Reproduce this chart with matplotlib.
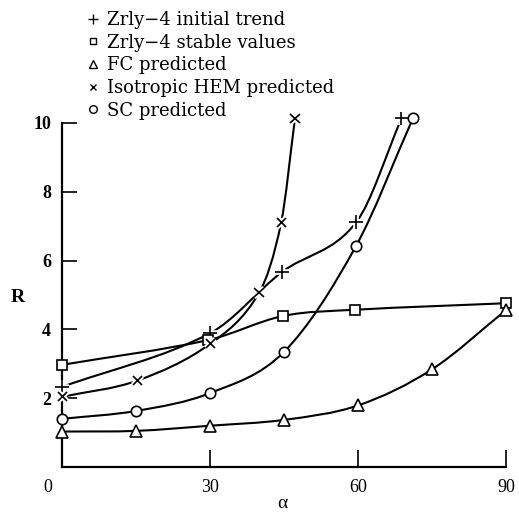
import numpy as np
import matplotlib
matplotlib.use("Agg")
import matplotlib.pyplot as plt
from matplotlib.path import Path
from matplotlib.patches import PathPatch
from matplotlib.lines import Line2D
import matplotlib.patheffects as pe

# ---- data ----
labels = ["Zrly\u22124 initial trend", "Zrly\u22124 stable values", "FC predicted",
          "Isotropic HEM predicted", "SC predicted"]

plus_a = [0, 30, 44.5, 59.6, 68.8]
plus_r = [2.33, 3.89, 5.66, 7.11, 10.13]

sq_a = [0, 29.6, 44.8, 59.4, 90]
sq_r = [2.97, 3.69, 4.39, 4.57, 4.76]

tri_a = [0, 15, 30, 45, 60, 75, 90]
tri_r = [1.03, 1.05, 1.20, 1.37, 1.79, 2.84, 4.56]

x_a = [0, 15.2, 30, 39.9, 44.4, 47.2]
x_r = [2.04, 2.51, 3.58, 5.06, 7.11, 10.13]

circ_a = [0, 15, 30, 45, 59.6, 71.1]
circ_r = [1.40, 1.63, 2.15, 3.35, 6.43, 10.13]

xticks = [30, 60, 90]
yticks = [2, 4, 6, 8, 10]

plt.rcParams['font.family'] = ['Liberation Serif', 'DejaVu Serif']

fig = plt.figure(figsize=(5.19, 5.12), dpi=100)
ax = fig.add_axes([0.120, 0.0879, 0.855, 0.672])
ax.set_xlim(0, 90)
ax.set_ylim(0, 10)


def smooth_path(xs, ys):
    xs = np.asarray(xs, float)
    ys = np.asarray(ys, float)
    n = len(xs)
    m = np.zeros(n)
    for i in range(n):
        if i == 0:
            m[i] = (ys[1] - ys[0]) / (xs[1] - xs[0])
        elif i == n - 1:
            m[i] = (ys[-1] - ys[-2]) / (xs[-1] - xs[-2])
        else:
            m[i] = (ys[i + 1] - ys[i - 1]) / (xs[i + 1] - xs[i - 1])
    verts = [(xs[0], ys[0])]
    codes = [Path.MOVETO]
    for i in range(n - 1):
        dx = xs[i + 1] - xs[i]
        verts += [(xs[i] + dx / 3, ys[i] + m[i] * dx / 3),
                  (xs[i + 1] - dx / 3, ys[i + 1] - m[i + 1] * dx / 3),
                  (xs[i + 1], ys[i + 1])]
        codes += [Path.CURVE4] * 3
    return Path(verts, codes)


series = [
    (plus_a, plus_r, '+', 10, 'black'),
    (sq_a, sq_r, 's', 6.5, 'white'),
    (tri_a, tri_r, '^', 8, 'white'),
    (x_a, x_r, 'x', 6.5, 'black'),
    (circ_a, circ_r, 'o', 7.5, 'white'),
]

for xs, ys, mk, ms, mfc in series:
    patch = PathPatch(smooth_path(xs, ys), facecolor='none', edgecolor='black',
                      lw=1.5, zorder=2, clip_on=False)
    ax.add_patch(patch)
    ln, = ax.plot(xs, ys, linestyle='none', marker=mk, markersize=ms,
                  markerfacecolor=mfc, markeredgecolor='black', markeredgewidth=1.2,
                  zorder=4, clip_on=False)
    if mk in ('+', 'x'):
        ln.set_path_effects([pe.Stroke(linewidth=4, foreground='white'), pe.Normal()])

# axes styling
for s in ['top', 'right']:
    ax.spines[s].set_visible(False)
for s in ['left', 'bottom']:
    ax.spines[s].set_linewidth(1.6)

ax.set_xticks(xticks)
ax.set_xticklabels([str(v) for v in xticks], fontsize=13)
ax.set_yticks(yticks)
ax.set_yticklabels([str(v) for v in yticks], fontsize=13, fontweight='bold')
ax.tick_params(axis='x', direction='in', length=12, width=1.2, pad=9)
ax.tick_params(axis='y', direction='in', length=11, width=1.2, pad=8)

fig.text(48 / 519, 1 - 487 / 512, "0", ha='center', va='center', fontsize=13)
fig.text(18 / 519, 1 - 298 / 512, "R", ha='center', va='center', fontsize=14,
         fontweight='bold')
fig.text(282 / 519, 1 - 503 / 512, "\u03b1", ha='center', va='center', fontsize=14)

# legend
handles = [
    Line2D([], [], linestyle='none', marker='+', markersize=7, color='black', mew=1.0),
    Line2D([], [], linestyle='none', marker='s', markersize=5, mfc='white', mec='black', mew=1.0),
    Line2D([], [], linestyle='none', marker='^', markersize=6, mfc='white', mec='black', mew=1.0),
    Line2D([], [], linestyle='none', marker='x', markersize=5, color='black', mew=1.0),
    Line2D([], [], linestyle='none', marker='o', markersize=5.5, mfc='white', mec='black', mew=1.0),
]
fig.legend(handles, labels, loc='upper left', bbox_to_anchor=(0.141, 1.0),
           frameon=False, prop={'family': 'DejaVu Serif', 'size': 13},
           handlelength=1.0, handletextpad=0.3,
           labelspacing=0.26, borderaxespad=0.2)

fig.savefig("out.png", dpi=100)
